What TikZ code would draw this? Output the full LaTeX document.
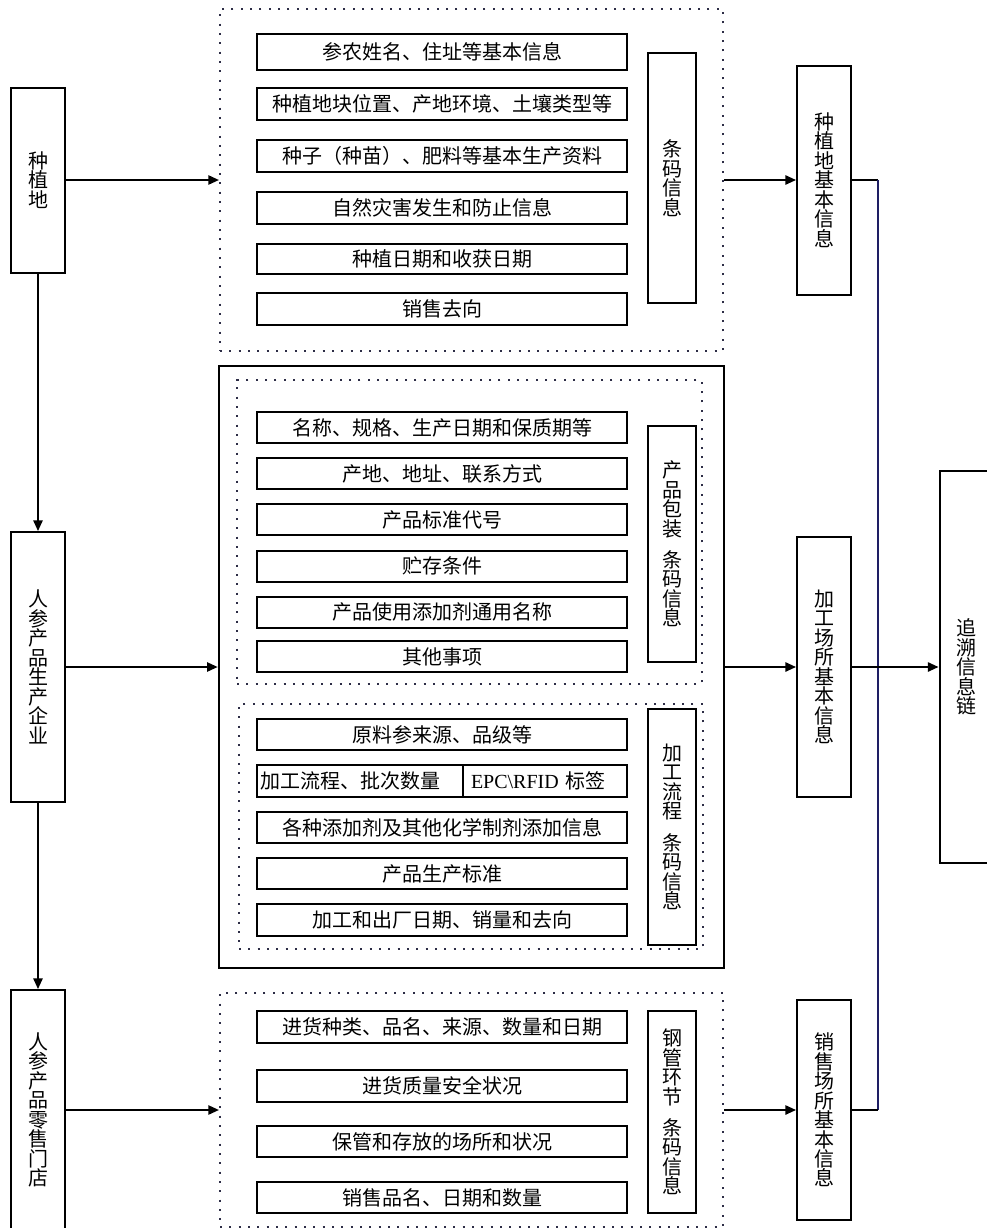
\documentclass[tikz,border=0pt]{standalone}
\usepackage{fontspec}
\setmainfont{Liberation Serif}
\newfontfamily\cjk{Noto Sans CJK SC}
\usepackage{tikz}
\usetikzlibrary{arrows.meta, positioning, calc}
\newcommand{\pxu}{0.75pt}
\definecolor{dotgray}{RGB}{45,45,70}
\definecolor{railnavy}{RGB}{30,30,100}
\tikzset{
  cell/.style 2 args={
    rectangle, draw=black, line width=1.5pt,
    minimum width=#1*\pxu, minimum height=#2*\pxu,
    inner sep=0pt, align=center,
    font=\cjk\fontsize{15}{14.6}\selectfont
  },
  rowbox/.style={cell={370}{#1}},
  rowbox/.default=32,
  tagbox/.style={cell={48}{#1}},
  sidebox/.style={cell={54}{#1}},
  dotframe/.style 2 args={
    rectangle, draw=dotgray, line width=1.6pt,
    dash pattern=on 1.6pt off 5.4pt, line cap=butt,
    minimum width=#1*\pxu, minimum height=#2*\pxu,
    inner sep=0pt
  },
  mainframe/.style 2 args={
    rectangle, draw=black, line width=2pt,
    minimum width=#1*\pxu, minimum height=#2*\pxu,
    inner sep=0pt
  },
  arrow/.style={
    -{Triangle[length=8pt, width=7pt]},
    line width=1.3pt
  },
  railline/.style={
    line width=1.3pt, draw=railnavy
  }
}

\begin{document}
\begin{tikzpicture}[x=0.75pt, y=-0.75pt]
\useasboundingbox (0,0) rectangle (986,1228);

%------------------------------------------------------
% LEFT COLUMN (sources)
%------------------------------------------------------

\node[sidebox=185] (plantSite) at (38,180) {种\\植\\地};
\node[sidebox=270] (factorySite) at (38,667) {人\\参\\产\\品\\生\\产\\企\\业};
\node[sidebox=240] (retailSite) at (38,1110) {人\\参\\产\\品\\零\\售\\门\\店};

%------------------------------------------------------
% 1. Planting records
%------------------------------------------------------

\node[dotframe={503}{342}] (plantFrame) at (471.5,180) {};
\node[rowbox=36] (plantRowA) at (442,52) {参农姓名、住址等基本信息};
\node[rowbox] (plantRowB) at (442,104) {种植地块位置、产地环境、土壤类型等};
\node[rowbox] (plantRowC) at (442,156) {种子（种苗）、肥料等基本生产资料};
\node[rowbox] (plantRowD) at (442,207.5) {自然灾害发生和防止信息};
\node[rowbox=30] (plantRowE) at (442,258.5) {种植日期和收获日期};
\node[rowbox] (plantRowF) at (442,309) {销售去向};
\node[tagbox=250] (plantCode) at (672,178) {条\\码\\信\\息};
\node[sidebox=229] (plantInfo) at (824,180) {种\\植\\地\\基\\本\\信\\息};

%------------------------------------------------------
% 2. Factory records (packaging + processing)
%------------------------------------------------------

\node[mainframe={505}{602}] (factoryFrame) at (471.5,667) {};

% 2a. packaging
\node[dotframe={465}{304}] (packFrame) at (469.5,532) {};
\node[rowbox=31] (packRowA) at (442,427.5) {名称、规格、生产日期和保质期等};
\node[rowbox=31] (packRowB) at (442,473.5) {产地、地址、联系方式};
\node[rowbox=31] (packRowC) at (442,519.5) {产品标准代号};
\node[rowbox=31] (packRowD) at (442,566) {贮存条件};
\node[rowbox=31] (packRowE) at (442,612) {产品使用添加剂通用名称};
\node[rowbox=31] (packRowF) at (442,656.5) {其他事项};
\node[tagbox=236] (packCode) at (672,544) {产\\品\\包\\装\\[9pt]条\\码\\信\\息};

% 2b. processing
\node[dotframe={464}{245}] (procFrame) at (471,826.5) {};
\node[rowbox=31] (procRowA) at (442,734.5) {原料参来源、品级等};
\node[cell={206}{32}, text width=200*\pxu, inner xsep=3*\pxu, align=left] (procRowB) at (360,781) {加工流程、批次数量};
\node[cell={164}{32}, text width=148*\pxu, inner xsep=8*\pxu, align=left, right=-1.5pt of procRowB] (procTag) {{\rmfamily EPC\textbackslash RFID} 标签};
\node[rowbox=31] (procRowC) at (442,827.5) {各种添加剂及其他化学制剂添加信息};
\node[rowbox=31] (procRowD) at (442,873.5) {产品生产标准};
\node[rowbox] (procRowE) at (442,920) {加工和出厂日期、销量和去向};
\node[tagbox=236] (procCode) at (672,827) {加\\工\\流\\程\\[9pt]条\\码\\信\\息};

\node[sidebox=260] (factoryInfo) at (824,667) {加\\工\\场\\所\\基\\本\\信\\息};

%------------------------------------------------------
% 3. Retail records
%------------------------------------------------------

\node[dotframe={503}{234}] (retailFrame) at (471.5,1110) {};
\node[rowbox] (retailRowA) at (442,1027) {进货种类、品名、来源、数量和日期};
\node[rowbox] (retailRowB) at (442,1086) {进货质量安全状况};
\node[rowbox=31] (retailRowC) at (442,1141.5) {保管和存放的场所和状况};
\node[rowbox=31] (retailRowD) at (442,1197.5) {销售品名、日期和数量};
\node[tagbox=202] (retailCode) at (672,1112) {钢\\管\\环\\节\\[9pt]条\\码\\信\\息};
\node[sidebox=220] (retailInfo) at (824,1110) {销\\售\\场\\所\\基\\本\\信\\息};

%------------------------------------------------------
% 4. Trace chain
%------------------------------------------------------

\node[sidebox=392] (traceChain) at (966.5,667) {追\\溯\\信\\息\\链};
\coordinate (railTop) at (878,180);
\coordinate (railBot) at (878,1110);

%------------------------------------------------------
% EDGES
%------------------------------------------------------

\draw[arrow] (plantSite) -- (factorySite);
\draw[arrow] (factorySite) -- (retailSite);
\draw[arrow] (plantSite) -- (plantFrame);
\draw[arrow] (factorySite) -- (factoryFrame);
\draw[arrow] (retailSite) -- (retailFrame);
\draw[arrow] (plantFrame) -- (plantInfo);
\draw[arrow] (factoryFrame) -- (factoryInfo);
\draw[arrow] (retailFrame) -- (retailInfo);
\draw[line width=1.3pt] (plantInfo.east) -- (railTop);
\draw[railline] (railTop) -- (railBot);
\draw[line width=1.3pt] (railBot) -- (retailInfo.east);
\draw[arrow] (factoryInfo) -- (traceChain);

\end{tikzpicture}
\end{document}
